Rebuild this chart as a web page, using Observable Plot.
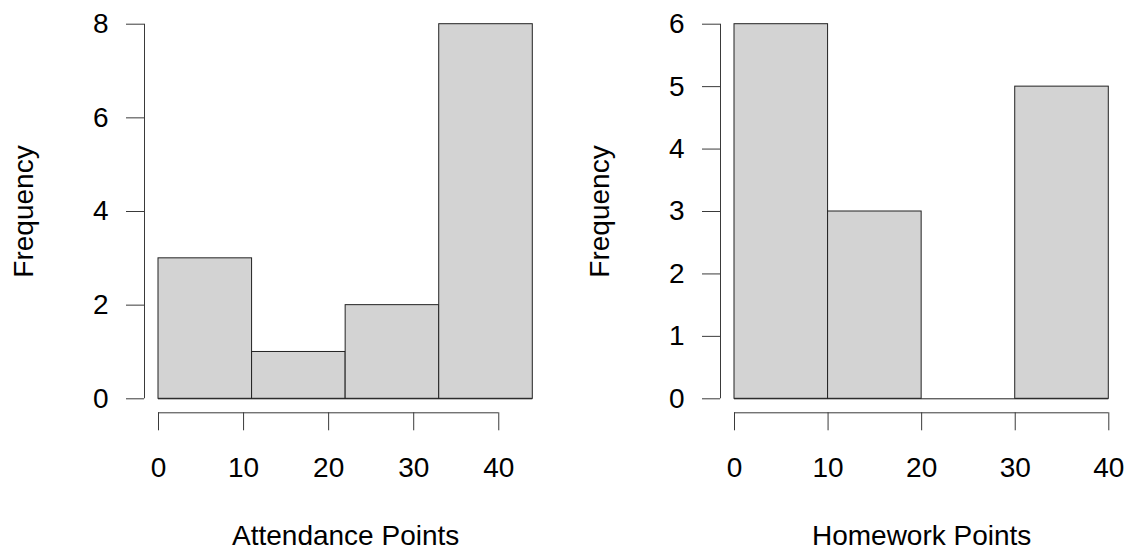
<!DOCTYPE html>
<html>
<head>
<meta charset="utf-8">
<script src="https://cdn.jsdelivr.net/npm/d3@7"></script>
<script src="https://cdn.jsdelivr.net/npm/@observablehq/plot@0.6"></script>
<style>
  html, body { margin: 0; padding: 0; background: #ffffff; }
  #wrap { display: flex; width: 1126px; height: 549px; }
  #wrap > div { width: 563px; height: 549px; }
  svg { display: block; }
</style>
</head>
<body>
<div id="wrap"><div id="left"></div><div id="right"></div></div>
<script>
// Histogram data
const attendanceBreaks = [0, 11, 22, 33, 44];
const attendanceCounts = [3, 1, 2, 8];
const homeworkBreaks = [0, 10, 20, 30, 40];
const homeworkCounts = [6, 3, 0, 5];

const attendanceXTicks = [0, 10, 20, 30, 40];
const homeworkXTicks = [0, 10, 20, 30, 40];
const attendanceYTicks = [0, 2, 4, 6, 8];
const homeworkYTicks = [0, 1, 2, 3, 4, 5, 6];

const attendanceLabel = "Attendance Points";
const homeworkLabel = "Homework Points";
const yLabel = "Frequency";

function bins(breaks, counts) {
  return counts.map((c, i) => ({x1: breaks[i], x2: breaks[i + 1], count: c}));
}

const FONT = "'Liberation Sans', Arial, Helvetica, sans-serif";
const BAR_FILL = "#d3d3d3";
const BAR_STROKE = "#222222";
const AXIS_STROKE = "#3a3a3a";

function histogram({breaks, counts, xTicks, yTicks, xLabel, marginLeft, marginRight}) {
  const data = bins(breaks, counts);
  const xMin = breaks[0], xMax = breaks[breaks.length - 1];
  const yMin = yTicks[0], yMax = yTicks[yTicks.length - 1];
  return Plot.plot({
    width: 563,
    height: 549,
    marginLeft,
    marginRight,
    marginTop: 23.7,
    marginBottom: 150.7,
    style: {fontFamily: FONT, fontSize: "28px", background: "white", color: "black", overflow: "visible"},
    x: {domain: [xMin, xMax]},
    y: {domain: [yMin, yMax]},
    marks: [
      Plot.rect(data, {x1: "x1", x2: "x2", y1: 0, y2: "count", fill: BAR_FILL, stroke: BAR_STROKE, strokeWidth: 1}),
      Plot.ruleY([0], {x1: xMin, x2: xMax, stroke: BAR_STROKE, strokeWidth: 1}),
      // y axis (offset left like base R)
      Plot.ruleX([xMin], {y1: yMin, y2: yMax, dx: -14, stroke: AXIS_STROKE, strokeWidth: 1}),
      Plot.axisY(yTicks, {
        anchor: "left", tickSize: 18, tickPadding: 18, dx: -14,
        stroke: AXIS_STROKE, fill: "black", fontSize: 28, label: null,
        tickFormat: d => String(d)
      }),
      // x axis (offset down like base R)
      Plot.ruleY([yMin], {x1: xTicks[0], x2: xTicks[xTicks.length - 1], dy: 14, stroke: AXIS_STROKE, strokeWidth: 1}),
      Plot.axisX(xTicks, {
        anchor: "bottom", tickSize: 18, tickPadding: 26, dy: 14,
        stroke: AXIS_STROKE, fill: "black", fontSize: 28, label: null,
        tickFormat: d => String(d)
      }),
      // axis titles
      Plot.text([xLabel], {frameAnchor: "bottom", dy: 137, fontSize: 28, fill: "black", lineAnchor: "middle"}),
      Plot.text([yLabel], {frameAnchor: "left", dx: -134, rotate: -90, fontSize: 28, fill: "black", lineAnchor: "middle", textAnchor: "middle"})
    ]
  });
}

document.getElementById("left").appendChild(histogram({
  breaks: attendanceBreaks, counts: attendanceCounts,
  xTicks: attendanceXTicks, yTicks: attendanceYTicks,
  xLabel: attendanceLabel, marginLeft: 158, marginRight: 30.7
}));
document.getElementById("right").appendChild(histogram({
  breaks: homeworkBreaks, counts: homeworkCounts,
  xTicks: homeworkXTicks, yTicks: homeworkYTicks,
  xLabel: homeworkLabel, marginLeft: 171, marginRight: 17.7
}));
</script>
</body>
</html>
